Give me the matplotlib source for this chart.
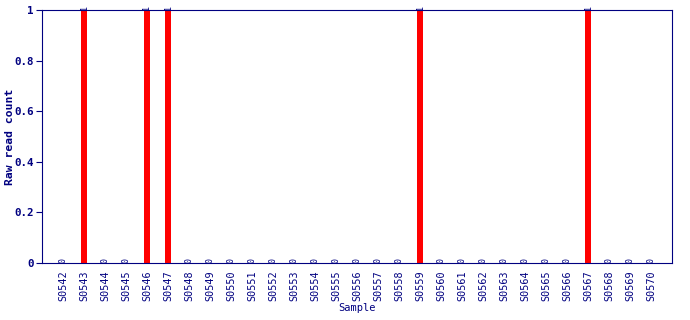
import matplotlib
matplotlib.use("Agg")
import matplotlib.pyplot as plt

samples = ["S%04d" % n for n in range(542, 571)]
counts = [0, 1, 0, 0, 1, 1, 0, 0, 0, 0, 0, 0, 0, 0, 0, 0, 0,
          1, 0, 0, 0, 0, 0, 0, 0, 1, 0, 0, 0]

navy = "#000080"
mono = "DejaVu Sans Mono"

fig = plt.figure(figsize=(6.9, 3.2), dpi=100)
ax = fig.add_axes([42 / 690, 1 - 263 / 320, 630 / 690, 253 / 320])

x = list(range(len(samples)))
ax.bar(x, counts, width=0.24, color="#ff0000")
for xi, c in zip(x, counts):
    ax.text(xi, c, "%d" % c, rotation=90, ha="center", va="bottom",
            fontsize=6, family=mono, color=navy)

ax.set_xlim(-1, len(samples))
ax.set_ylim(0, 1)
ax.set_xticks(x)
ax.set_xticklabels(samples, rotation=90, family=mono, fontsize=7.3, color=navy)
ax.set_yticks([0, 0.2, 0.4, 0.6, 0.8, 1])
ax.set_yticklabels(["0", "0.2", "0.4", "0.6", "0.8", "1"], family=mono,
                   fontsize=7.8, fontweight="bold", color=navy)
ax.tick_params(axis="x", length=0, pad=5)
ax.tick_params(axis="y", length=4, color=navy, pad=2)
for s in ax.spines.values():
    s.set_color(navy)
ax.set_ylabel("Raw read count", family=mono, fontsize=8.2, fontweight="bold",
              color=navy)
ax.yaxis.set_label_coords(-0.043, 0.5)
ax.set_xlabel("Sample", family=mono, fontsize=7.5, color=navy, labelpad=2)

fig.savefig("out.png", dpi=100)
